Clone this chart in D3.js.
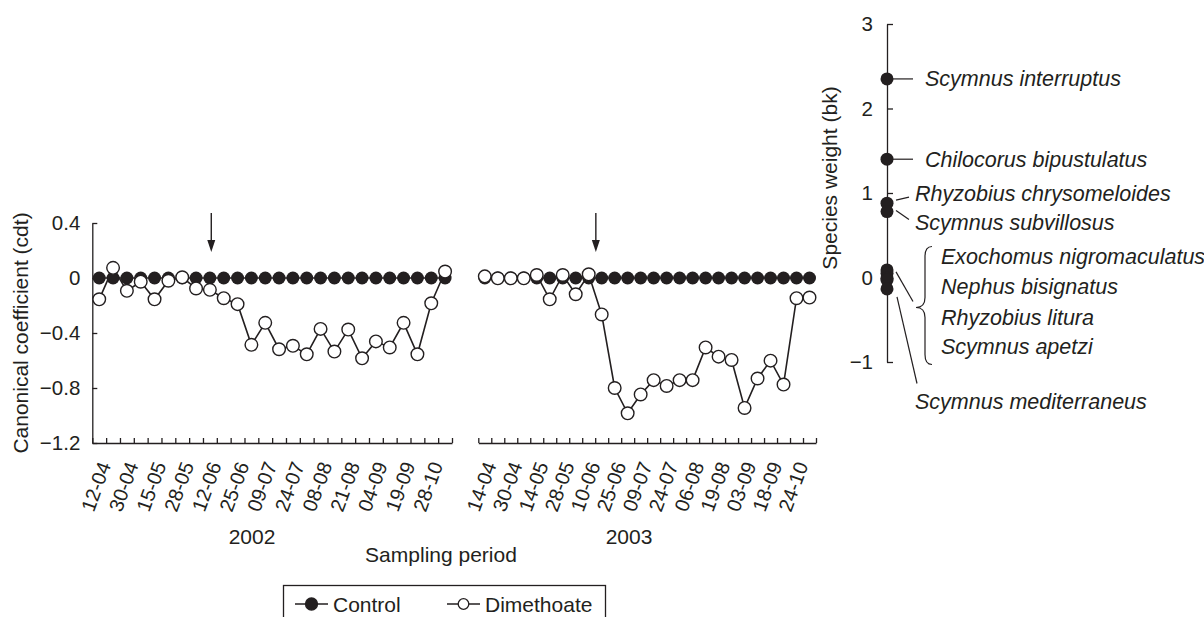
<!DOCTYPE html>
<html lang="en">
<head>
<meta charset="UTF-8">
<title>Canonical coefficients - ladybird species</title>
<script src="https://d3js.org/d3.v7.min.js"></script>
<style>
    body { margin: 0; background: #fff; }
    svg { display: block; }
    text { font-family: "Liberation Sans", Arial, sans-serif; fill: #231f20; }
    .axis path, .axis line { stroke: #231f20; stroke-width: 1.3; }
    .axis text { font-size: 20.5px; }
    .lbl { font-size: 21px; }
    .date { font-size: 20px; }
    .sp { font-size: 21.5px; font-style: italic; }
    .serie { fill: none; stroke: #231f20; stroke-width: 1.6; }
</style>
</head>
<body>
<svg width="1204" height="617"></svg>
<script>
// sampling dates (every other sample is labelled)
const dates2002 = ["12-04","30-04","15-05","28-05","12-06","25-06","09-07","24-07","08-08","21-08","04-09","19-09","28-10"];
const dates2003 = ["14-04","30-04","14-05","28-05","10-06","25-06","09-07","24-07","06-08","19-08","03-09","18-09","24-10"];

// canonical coefficients (cdt), one per sample
const control2002 = [0,0,0,0,0,0,0,0,0,0,0,0,0,0,0,0,0,0,0,0,0,0,0,0,0,0];
const dimethoate2002 = [-0.155,0.074,-0.093,-0.027,-0.155,-0.02,0.005,-0.076,-0.086,-0.147,-0.19,-0.486,-0.326,
                        -0.518,-0.493,-0.555,-0.37,-0.535,-0.375,-0.584,-0.461,-0.505,-0.326,-0.555,-0.184,0.047];
const control2003 = [0,0,0,0,0,0,0,0,0,0,0,0,0,0,0,0,0,0,0,0,0,0,0,0,0,0];
const dimethoate2003 = [0.012,-0.002,-0.002,-0.002,0.022,-0.155,0.022,-0.118,0.027,-0.265,-0.8,-0.984,-0.847,
                        -0.743,-0.785,-0.743,-0.743,-0.505,-0.572,-0.596,-0.945,-0.731,-0.601,-0.775,-0.147,-0.142];

// dimethoate application (in sample units)
const spray = [8.6, 9.05];

// species weights (bk)
const speciesNames = ["Scymnus interruptus","Chilocorus bipustulatus","Rhyzobius chrysomeloides","Scymnus subvillosus",
                      "Exochomus nigromaculatus","Nephus bisignatus","Rhyzobius litura","Scymnus apetzi","Scymnus mediterraneus"];
const speciesWeights = [2.35, 1.40, 0.88, 0.78, 0.09, 0.05, -0.01, -0.03, -0.135];

const cdtTicks = [0.4, 0, -0.4, -0.8, -1.2];
const bkTicks = [3, 2, 1, 0, -1];

const svg = d3.select("svg");
const ink = "#231f20";

const y = d3.scaleLinear().domain([-1.2, 0.4]).range([443, 223]);
const x02 = d3.scaleLinear().domain([0, 26]).range([92.3, 452]);
const x03 = d3.scaleLinear().domain([0, 26]).range([478.3, 816]);
const yS = d3.scaleLinear().domain([-1, 3]).range([362, 24]);

const fmt = d => d === 0 ? "0" : d3.format(".1f")(d);

// left y axis
svg.append("g").attr("class", "axis")
    .attr("transform", "translate(92.3,0)")
    .call(d3.axisLeft(y).tickValues(cdtTicks).tickFormat(fmt).tickSize(-5).tickSizeOuter(0).tickPadding(12));

svg.append("text").attr("class", "lbl")
    .attr("transform", "translate(28,333) rotate(-90)")
    .attr("text-anchor", "middle")
    .text("Canonical coefficient (cdt)");

// one panel per year
const panels = [
    {x: x02, dates: dates2002, ctrl: control2002, dime: dimethoate2002, year: "2002", yearX: 252, spray: spray[0]},
    {x: x03, dates: dates2003, ctrl: control2003, dime: dimethoate2003, year: "2003", yearX: 629, spray: spray[1]}
];

panels.forEach(p => {
    svg.append("g").attr("class", "axis")
        .attr("transform", "translate(0,443)")
        .call(d3.axisBottom(p.x).tickValues(d3.range(27)).tickFormat("").tickSize(-5).tickSizeOuter(0));

    svg.append("g").selectAll("text")
        .data(p.dates)
        .join("text")
        .attr("class", "date")
        .attr("text-anchor", "end")
        .attr("transform", (d, i) => `translate(${p.x(2 * i + 0.5) + 12},465) rotate(-70)`)
        .text(d => d);

    svg.append("text").attr("class", "lbl")
        .attr("x", p.yearX).attr("y", 544)
        .attr("text-anchor", "middle")
        .text(p.year);

    const line = d3.line().x((d, i) => p.x(i + 0.5)).y(d => y(d));

    svg.append("path").attr("class", "serie").attr("d", line(p.ctrl));
    svg.append("g").selectAll("circle")
        .data(p.ctrl)
        .join("circle")
        .attr("cx", (d, i) => p.x(i + 0.5))
        .attr("cy", d => y(d))
        .attr("r", 6.5)
        .attr("fill", ink);

    svg.append("path").attr("class", "serie").attr("d", line(p.dime));
    svg.append("g").selectAll("circle")
        .data(p.dime)
        .join("circle")
        .attr("cx", (d, i) => p.x(i + 0.5))
        .attr("cy", d => y(d))
        .attr("r", 6.3)
        .attr("fill", "#fff")
        .attr("stroke", ink)
        .attr("stroke-width", 1.4);

    // spray arrow
    const ax = p.x(p.spray);
    svg.append("line")
        .attr("x1", ax).attr("x2", ax).attr("y1", 213).attr("y2", 242)
        .attr("stroke", ink).attr("stroke-width", 1.4);
    svg.append("path")
        .attr("d", `M${ax - 4},240L${ax + 4},240L${ax},252Z`)
        .attr("fill", ink);
});

svg.append("text").attr("class", "lbl")
    .attr("x", 441).attr("y", 562)
    .attr("text-anchor", "middle")
    .text("Sampling period");

// legend
const leg = svg.append("g");
leg.append("rect")
    .attr("x", 283.5).attr("y", 585.5).attr("width", 322).attr("height", 60)
    .attr("fill", "none").attr("stroke", ink).attr("stroke-width", 1.3);
[
    {name: "Control", x: 295, fill: ink},
    {name: "Dimethoate", x: 447, fill: "#fff"}
].forEach(s => {
    leg.append("line")
        .attr("x1", s.x).attr("x2", s.x + 33).attr("y1", 604).attr("y2", 604)
        .attr("stroke", ink).attr("stroke-width", 1.6);
    leg.append("circle")
        .attr("cx", s.x + 16.5).attr("cy", 604)
        .attr("r", s.fill === ink ? 6 : 5.3)
        .attr("fill", s.fill).attr("stroke", ink).attr("stroke-width", 1.3);
    leg.append("text").attr("class", "lbl")
        .attr("x", s.x + 38).attr("y", 611.5)
        .text(s.name);
});

// species weights axis
svg.append("g").attr("class", "axis")
    .attr("transform", "translate(887,0)")
    .call(d3.axisLeft(yS).tickValues(bkTicks).tickFormat(d3.format("d")).tickSize(-6).tickSizeOuter(0).tickPadding(14));

svg.append("text").attr("class", "lbl")
    .attr("transform", "translate(837,178) rotate(-90)")
    .attr("text-anchor", "middle")
    .text("Species weight (bk)");

svg.append("g").selectAll("circle")
    .data(speciesWeights)
    .join("circle")
    .attr("cx", 887)
    .attr("cy", d => yS(d))
    .attr("r", 6.5)
    .attr("fill", ink);

const y0 = yS(0);
// leader lines from each dot to its label
const leaders = [
    [893, yS(speciesWeights[0]), 913, yS(speciesWeights[0])],
    [893, yS(speciesWeights[1]), 913, yS(speciesWeights[1])],
    [896, yS(speciesWeights[2]) - 3, 909, yS(speciesWeights[2]) - 6],
    [896, yS(speciesWeights[3]) - 1, 909, yS(speciesWeights[3]) + 8],
    [896, yS(speciesWeights[4]) + 2, 913, y0 + 24],
    [897, yS(speciesWeights[8]) + 8, 917, y0 + 106]
];
svg.append("g").selectAll("line")
    .data(leaders)
    .join("line")
    .attr("x1", d => d[0]).attr("y1", d => d[1])
    .attr("x2", d => d[2]).attr("y2", d => d[3])
    .attr("stroke", ink).attr("stroke-width", 1.2);

const labelPos = [
    [925, yS(speciesWeights[0])],
    [925, yS(speciesWeights[1])],
    [915, yS(speciesWeights[2]) - 10],
    [915, yS(speciesWeights[3]) + 11],
    [941, y0 - 21],
    [941, y0 + 9],
    [941, y0 + 40],
    [941, y0 + 69],
    [915, y0 + 124]
];
svg.append("g").selectAll("text")
    .data(speciesNames)
    .join("text")
    .attr("class", "sp")
    .attr("x", (d, i) => labelPos[i][0])
    .attr("y", (d, i) => labelPos[i][1])
    .attr("dy", "0.35em")
    .text(d => d);

// brace grouping four species
svg.append("path")
    .attr("d", `M932,${y0 - 31}Q925,${y0 - 31} 925,${y0 - 21}L925,${y0 + 20}Q925,${y0 + 30} 916,${y0 + 30}` +
               `Q925,${y0 + 30} 925,${y0 + 40}L925,${y0 + 77}Q925,${y0 + 87} 932,${y0 + 87}`)
    .attr("fill", "none").attr("stroke", ink).attr("stroke-width", 1.2);
</script>
</body>
</html>
